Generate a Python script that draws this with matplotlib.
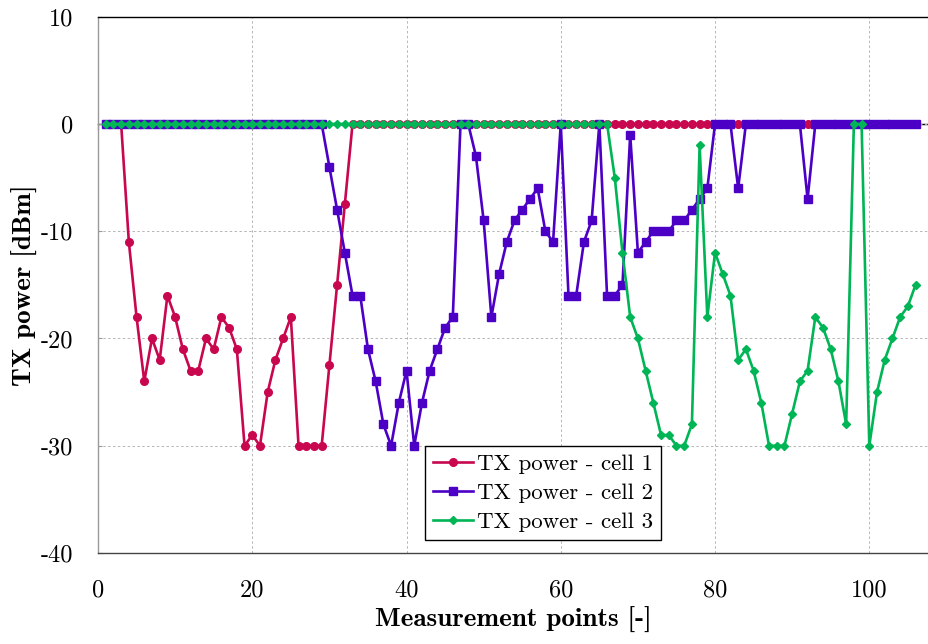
import matplotlib
matplotlib.use("Agg")
import matplotlib.pyplot as plt

# measurement points 1..106
points = list(range(1, 107))

cell1 = [
    0, 0, 0, -11, -18, -24, -20, -22, -16, -18,
    -21, -23, -23, -20, -21, -18, -19, -21, -30, -29,
    -30, -25, -22, -20, -18, -30, -30, -30, -30, -22.5,
    -15, -7.5, 0, 0, 0, 0, 0, 0, 0, 0,
    0, 0, 0, 0, 0, 0, 0, 0, 0, 0,
    0, 0, 0, 0, 0, 0, 0, 0, 0, 0,
    0, 0, 0, 0, 0, 0, 0, 0, 0, 0,
    0, 0, 0, 0, 0, 0, 0, 0, 0, 0,
    0, 0, 0, 0, 0, 0, 0, 0, 0, 0,
    0, 0, 0, 0, 0, 0, 0, 0, 0, 0,
    0, 0, 0, 0, 0, 0,
]

cell2 = [
    0, 0, 0, 0, 0, 0, 0, 0, 0, 0,
    0, 0, 0, 0, 0, 0, 0, 0, 0, 0,
    0, 0, 0, 0, 0, 0, 0, 0, 0, -4,
    -8, -12, -16, -16, -21, -24, -28, -30, -26, -23,
    -30, -26, -23, -21, -19, -18, 0, 0, -3, -9,
    -18, -14, -11, -9, -8, -7, -6, -10, -11, 0,
    -16, -16, -11, -9, 0, -16, -16, -15, -1, -12,
    -11, -10, -10, -10, -9, -9, -8, -7, -6, 0,
    0, 0, -6, 0, 0, 0, 0, 0, 0, 0,
    0, -7, 0, 0, 0, 0, 0, 0, 0, 0,
    0, 0, 0, 0, 0, 0,
]

cell3 = [
    0, 0, 0, 0, 0, 0, 0, 0, 0, 0,
    0, 0, 0, 0, 0, 0, 0, 0, 0, 0,
    0, 0, 0, 0, 0, 0, 0, 0, 0, 0,
    0, 0, 0, 0, 0, 0, 0, 0, 0, 0,
    0, 0, 0, 0, 0, 0, 0, 0, 0, 0,
    0, 0, 0, 0, 0, 0, 0, 0, 0, 0,
    0, 0, 0, 0, 0, 0, -5, -12, -18, -20,
    -23, -26, -29, -29, -30, -30, -28, -2, -18, -12,
    -14, -16, -22, -21, -23, -26, -30, -30, -30, -27,
    -24, -23, -18, -19, -21, -24, -28, 0, 0, -30,
    -25, -22, -20, -18, -17, -15,
]

labels = ["TX power - cell 1", "TX power - cell 2", "TX power - cell 3"]
colors = ["#c8074f", "#4c00c6", "#00b555"]
markers = ["o", "s", "D"]
msizes = [5.5, 5.5, 4.0]

x_ticks = [0, 20, 40, 60, 80, 100]
y_ticks = [10, 0, -10, -20, -30, -40]


def main():
    plt.rcParams["font.family"] = "cmr10"
    plt.rcParams["axes.unicode_minus"] = False
    plt.rcParams["axes.formatter.use_mathtext"] = False

    fig = plt.figure(figsize=(9.29, 6.44), dpi=100)
    ax = fig.add_axes([98 / 929, 91 / 644, 831 / 929, 536.3 / 644])

    series = [cell1, cell2, cell3]
    for i, vals in enumerate(series):
        ax.plot(points, vals, color=colors[i], linewidth=1.9,
                marker=markers[i], markersize=msizes[i], label=labels[i],
                zorder=3 + i)

    ax.set_xlim(0, 831 / 7.713)
    ax.set_ylim(-40, 10)
    ax.set_xticks(x_ticks)
    ax.set_yticks(y_ticks)
    ax.grid(True, color="#b5b5b5", linestyle=(0, (2.5, 2.5)), linewidth=0.7)
    ax.set_axisbelow(True)

    ax.spines["right"].set_visible(False)
    ax.spines["top"].set_color("black")
    ax.spines["left"].set_color("#999999")
    ax.spines["bottom"].set_color("#444444")
    for s in ax.spines.values():
        s.set_linewidth(1.0)

    ax.tick_params(axis="x", length=0, pad=19, labelsize=17.5)
    ax.tick_params(axis="y", direction="in", length=3, color="#999999",
                   pad=18, labelsize=17.5)

    # x axis line through y=0 with ticks
    sec = ax.secondary_xaxis(0.8)
    sec.set_xticks(x_ticks)
    sec.tick_params(direction="in", length=4, labelbottom=False,
                    labeltop=False, color="black")
    for s in sec.spines.values():
        s.set_color("black")
        s.set_linewidth(1.0)

    ax.set_xlabel("Measurement points [-]", family="cmb10", fontsize=19.5,
                  labelpad=4)
    ax.set_ylabel("TX power [dBm]", family="cmb10", fontsize=19.5, labelpad=2)

    leg = ax.legend(loc="lower left", bbox_to_anchor=(0.3935, 0.024),
                    fontsize=16.5, frameon=True, fancybox=False, framealpha=1,
                    edgecolor="black", handlelength=1.75, handletextpad=0.15,
                    labelspacing=0.4, borderpad=0.35, borderaxespad=0)
    leg.get_frame().set_linewidth(1.0)
    leg.set_zorder(10)

    fig.savefig("out.png", dpi=100)


if __name__ == "__main__":
    main()
